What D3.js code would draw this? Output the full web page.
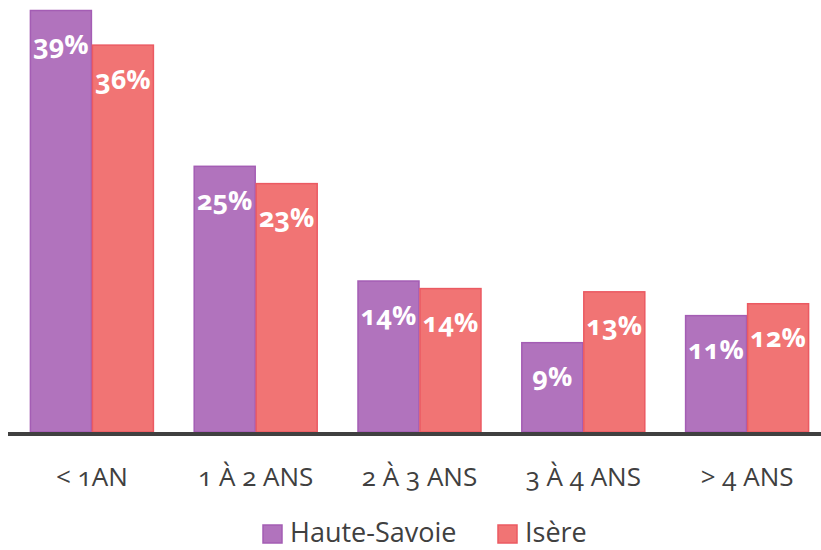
<!DOCTYPE html>
<html>
<head>
<meta charset="utf-8">
<script src="https://cdn.jsdelivr.net/npm/d3@7"></script>
<style>
  body { margin: 0; background: #fff; }
  text { font-family: "Open Sans", "Noto Sans", sans-serif; font-variant-numeric: oldstyle-nums; }
</style>
</head>
<body>
<div id="chart"></div>
<script>
// categories + series
const categories = ["< 1AN", "1 À 2 ANS", "2 À 3 ANS", "3 À 4 ANS", "> 4 ANS"];
const seriesNames = ["Haute-Savoie", "Isère"];
const hauteSavoie = [39.0, 24.6, 14.0, 8.3, 10.8];
const isere = [35.8, 23.0, 13.3, 13.0, 11.9];
const hauteSavoieLabels = ["39%", "25%", "14%", "9%", "11%"];
const isereLabels = ["36%", "23%", "14%", "13%", "12%"];

const colors = {"Haute-Savoie": "#B173BD", "Isère": "#F17474"};
const strokes = {"Haute-Savoie": "#A45DB4", "Isère": "#EB5A62"};

const width = 821, height = 550;
const baseY = 432;

const svg = d3.select("#chart").append("svg")
  .attr("width", width)
  .attr("height", height);

// flatten into rows
var rows = [];
categories.forEach(function(c, i){
  rows.push({cat: c, series: "Haute-Savoie", value: hauteSavoie[i], label: hauteSavoieLabels[i]});
  rows.push({cat: c, series: "Isère", value: isere[i], label: isereLabels[i]});
});

var x0 = d3.scaleBand()
  .domain(categories)
  .range([10, 829])
  .paddingInner(0.243)
  .paddingOuter(0.1215);

var x1 = d3.scaleBand()
  .domain(seriesNames)
  .range([0, x0.bandwidth()]);

var y = d3.scaleLinear()
  .domain([0, 39])
  .range([baseY, 10]);

// bars
svg.append("g").selectAll("rect")
  .data(rows)
  .enter()
  .append("rect")
  .attr("x", function(d){ return x0(d.cat) + x1(d.series) + 0.5; })
  .attr("y", function(d){ return y(d.value) + 0.5; })
  .attr("width", x1.bandwidth() - 1)
  .attr("height", function(d){ return baseY - y(d.value) - 0.5; })
  .attr("fill", function(d){ return colors[d.series]; })
  .attr("stroke", function(d){ return strokes[d.series]; })
  .attr("stroke-width", 1.5);

// value labels
svg.append("g").selectAll("text")
  .data(rows)
  .enter()
  .append("text")
  .attr("x", function(d){ return x0(d.cat) + x1(d.series) + x1.bandwidth()/2; })
  .attr("y", function(d){ return y(d.value) + 44; })
  .attr("text-anchor", "middle")
  .attr("fill", "#fff")
  .attr("font-weight", "bold")
  .attr("font-size", "27px")
  .text(function(d){ return d.label; });

// axis line
svg.append("line")
  .attr("x1", 8).attr("x2", 821)
  .attr("y1", baseY + 2).attr("y2", baseY + 2)
  .attr("stroke", "#404040")
  .attr("stroke-width", 4);

// category labels
var xAxis = svg.append("g")
  .attr("transform", "translate(0," + baseY + ")")
  .call(d3.axisBottom(x0).tickSize(0).tickPadding(0));
xAxis.select(".domain").remove();
xAxis.selectAll("text")
  .attr("y", 54)
  .attr("dy", 0)
  .attr("font-size", "26px")
  .attr("fill", "#404040")
  .style("font-family", null);

// legend
var legend = svg.append("g");
var legendX = [263, 498];
seriesNames.forEach(function(s, i){
  legend.append("rect")
    .attr("x", legendX[i]).attr("y", 525)
    .attr("width", 19).attr("height", 18)
    .attr("fill", colors[s])
    .attr("stroke", strokes[s])
    .attr("stroke-width", 1.5);
  legend.append("text")
    .attr("x", legendX[i] + 27).attr("y", 542)
    .attr("font-size", "27px")
    .attr("fill", "#404040")
    .text(s);
});
</script>
</body>
</html>
